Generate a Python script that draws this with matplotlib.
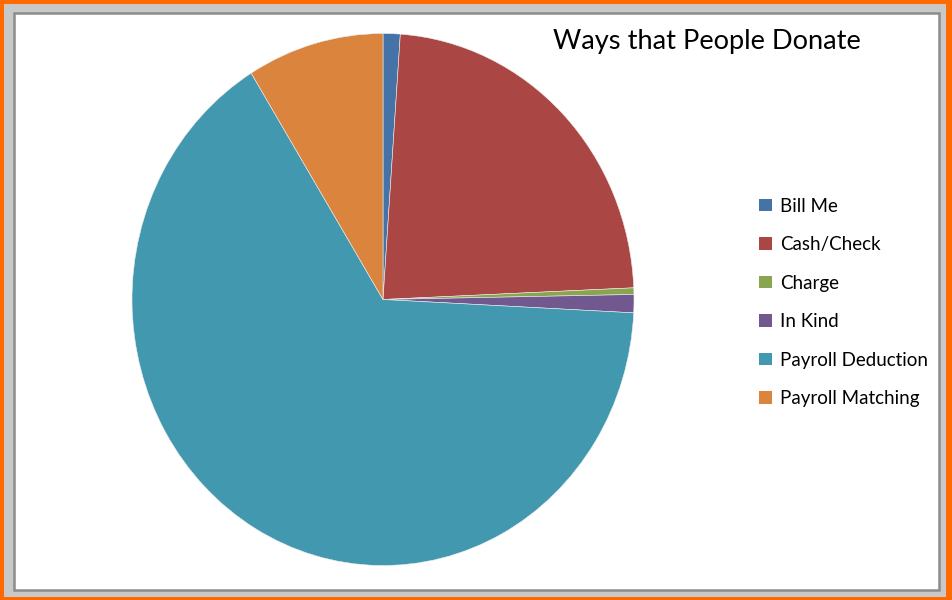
import matplotlib
matplotlib.use("Agg")
import matplotlib.pyplot as plt
from matplotlib.patches import Rectangle, Patch

# ── Data ──────────────────────────────────────────────────────────────────────
labels = ["Bill Me", "Cash/Check", "Charge", "In Kind",
          "Payroll Deduction", "Payroll Matching"]
shares = [1.1, 23.2, 0.4, 1.1, 65.4, 8.8]
colors = ["#4572A7", "#AA4643", "#89A54E", "#71588F", "#4198AF", "#DB843D"]
title = "Ways that People Donate"

W, H = 953, 600
plt.rcParams["font.family"] = ["Lato", "DejaVu Sans"]

fig = plt.figure(figsize=(W / 100, H / 100), dpi=100)
fig.patch.set_facecolor("#FF6A00")

# frame: grey band, dark grey line, white plot area
fig.patches.append(Rectangle((4 / W, 3 / H), (W - 7 - 4) / W, (H - 3 - 4) / H,
                             transform=fig.transFigure, facecolor="#C8C8C8",
                             edgecolor="none", zorder=-2))
fig.patches.append(Rectangle((14 / W, 10 / H), (W - 10 - 14 - 4) / W, (H - 10 - 12 - 1) / H,
                             transform=fig.transFigure, facecolor="white",
                             edgecolor="#8C8C8C", linewidth=1.8, zorder=-1))

# ── Pie (slightly stretched vertically, as in the original) ───────────────────
cx, cy, rx, ry = 383, 299.5, 251, 266
ax = fig.add_axes([(cx - rx) / W, (H - cy - ry) / H, 2 * rx / W, 2 * ry / H])
ax.set_zorder(2)
wedges, _ = ax.pie(shares, colors=colors, startangle=90, counterclock=False,
                   radius=1, wedgeprops=dict(edgecolor="#eeeeee", linewidth=0.4))
ax.set_aspect("auto")
ax.set_xlim(-1, 1)
ax.set_ylim(-1, 1)
ax.axis("off")

# ── Legend ────────────────────────────────────────────────────────────────────
handles = [Patch(facecolor=c, edgecolor="none") for c in colors]
leg = fig.legend(handles, labels, loc="upper left",
                 bbox_to_anchor=(752 / W, 1 - 190 / H), frameon=False,
                 fontsize=13.5, handlelength=0.65, handleheight=0.65,
                 handletextpad=0.45, labelspacing=1.15, borderaxespad=0)
leg.set_zorder(3)

fig.text(707 / W, 1 - 41 / H, title, ha="center", va="center",
         fontsize=19.6, color="black", zorder=3)

fig.savefig("out.png", dpi=100, facecolor=fig.get_facecolor())
